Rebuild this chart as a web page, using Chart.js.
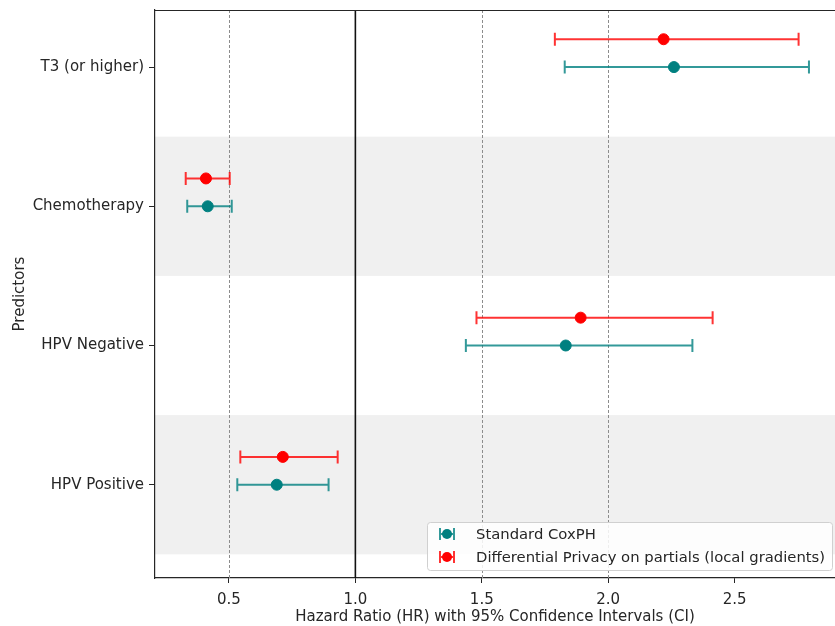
<!DOCTYPE html>
<html>
<head>
<meta charset="utf-8">
<script src="https://cdn.jsdelivr.net/npm/chart.js@4/dist/chart.umd.min.js"></script>
<style>
  html, body { margin: 0; padding: 0; background: #fff; overflow: hidden; }
  canvas { display: block; }
</style>
</head>
<body>
<canvas id="forest" width="835" height="626"></canvas>
<script>
const predictors = ['T3 (or higher)', 'Chemotherapy', 'HPV Negative', 'HPV Positive'];
const xTicks = [0.5, 1.0, 1.5, 2.0, 2.5];

const coxHR = [2.26, 0.416, 1.832, 0.689];
const coxLower = [1.828, 0.335, 1.437, 0.533];
const coxUpper = [2.794, 0.511, 2.333, 0.894];

const dpHR = [2.219, 0.409, 1.891, 0.713];
const dpLower = [1.789, 0.329, 1.479, 0.545];
const dpUpper = [2.753, 0.503, 2.413, 0.930];

const TEAL = '#008080';
const RED = '#ff0000';
const FONT = 'DejaVu Sans';
const TEXT = '#262626';

const toPoints = (hr, lo, hi, shift) =>
  hr.map((v, i) => ({ x: v, y: i + shift, lo: lo[i], hi: hi[i] }));

// shaded bands behind every other predictor
const bandsPlugin = {
  id: 'bands',
  beforeDraw(chart) {
    const { ctx, chartArea, scales } = chart;
    ctx.save();
    ctx.fillStyle = '#f0f0f0';
    [1, 3].forEach((i) => {
      const y1 = scales.y.getPixelForValue(i - 0.5);
      const y2 = scales.y.getPixelForValue(i + 0.5);
      ctx.fillRect(chartArea.left, y1, chartArea.right - chartArea.left, y2 - y1);
    });
    ctx.restore();
  }
};

// vertical reference lines and the error bars
const errorBarsPlugin = {
  id: 'errorBars',
  beforeDatasetsDraw(chart) {
    const { ctx, chartArea, scales } = chart;
    ctx.save();
    [0.5, 1.5, 2.0].forEach((v) => {
      const x = Math.round(scales.x.getPixelForValue(v)) + 0.5;
      ctx.strokeStyle = '#8c8c8c';
      ctx.lineWidth = 1;
      ctx.setLineDash([3, 2]);
      ctx.beginPath();
      ctx.moveTo(x, chartArea.top);
      ctx.lineTo(x, chartArea.bottom);
      ctx.stroke();
    });
    ctx.setLineDash([]);
    const x1 = scales.x.getPixelForValue(1.0);
    ctx.strokeStyle = '#111';
    ctx.lineWidth = 1.6;
    ctx.beginPath();
    ctx.moveTo(x1, chartArea.top);
    ctx.lineTo(x1, chartArea.bottom);
    ctx.stroke();

    chart.data.datasets.forEach((ds) => {
      ctx.strokeStyle = ds.barColor;
      ctx.lineWidth = 2;
      ds.data.forEach((p) => {
        const y = scales.y.getPixelForValue(p.y);
        const xl = scales.x.getPixelForValue(p.lo);
        const xh = scales.x.getPixelForValue(p.hi);
        ctx.beginPath();
        ctx.moveTo(xl, y);
        ctx.lineTo(xh, y);
        ctx.moveTo(xl, y - 6.5);
        ctx.lineTo(xl, y + 6.5);
        ctx.moveTo(xh, y - 6.5);
        ctx.lineTo(xh, y + 6.5);
        ctx.stroke();
      });
    });
    ctx.restore();
  },
  afterDatasetsDraw(chart) {
    const { ctx, chartArea } = chart;
    ctx.save();
    ctx.strokeStyle = '#262626';
    ctx.lineWidth = 1.2;
    ctx.beginPath();
    ctx.moveTo(chartArea.left, chartArea.top + 0.5);
    ctx.lineTo(chartArea.right, chartArea.top + 0.5);
    ctx.stroke();
    ctx.restore();
  }
};

// legend box placed inside the plot, lower right
const legendPlugin = {
  id: 'innerLegend',
  afterDraw(chart) {
    const { ctx } = chart;
    const bx = 427, by = 522, bw = 405, bh = 48;
    ctx.save();
    ctx.fillStyle = 'rgba(255,255,255,0.85)';
    ctx.strokeStyle = '#d0d0d0';
    ctx.lineWidth = 1;
    ctx.beginPath();
    ctx.roundRect(bx + 0.5, by + 0.5, bw, bh, 3);
    ctx.fill();
    ctx.stroke();
    ctx.font = '14.8px "' + FONT + '"';
    ctx.textBaseline = 'middle';
    chart.data.datasets.forEach((ds, k) => {
      const y = by + 12 + k * 23;
      const cx = 447;
      ctx.strokeStyle = ds.barColor;
      ctx.lineWidth = 2;
      ctx.beginPath();
      ctx.moveTo(cx - 7, y); ctx.lineTo(cx + 7, y);
      ctx.moveTo(cx - 7, y - 6); ctx.lineTo(cx - 7, y + 6);
      ctx.moveTo(cx + 7, y - 6); ctx.lineTo(cx + 7, y + 6);
      ctx.stroke();
      ctx.fillStyle = ds.backgroundColor;
      ctx.beginPath();
      ctx.arc(cx, y, 5, 0, Math.PI * 2);
      ctx.fill();
      ctx.fillStyle = TEXT;
      ctx.fillText(ds.label, 476, y + 1);
    });
    ctx.restore();
  }
};

new Chart(document.getElementById('forest'), {
  type: 'scatter',
  data: {
    datasets: [
      {
        label: 'Standard CoxPH',
        data: toPoints(coxHR, coxLower, coxUpper, 0),
        backgroundColor: TEAL,
        borderColor: TEAL,
        barColor: 'rgba(0,128,128,0.8)',
        pointRadius: 5.5,
        pointHoverRadius: 5.5
      },
      {
        label: 'Differential Privacy on partials (local gradients)',
        data: toPoints(dpHR, dpLower, dpUpper, -0.2),
        backgroundColor: RED,
        borderColor: RED,
        barColor: 'rgba(255,0,0,0.8)',
        pointRadius: 5.5,
        pointHoverRadius: 5.5
      }
    ]
  },
  options: {
    responsive: false,
    animation: false,
    events: [],
    layout: { autoPadding: false, padding: { top: 10, right: 0, bottom: 0, left: 0 } },
    plugins: {
      legend: { display: false },
      tooltip: { enabled: false }
    },
    scales: {
      x: {
        type: 'linear',
        min: 0.2075,
        max: 2.897,
        afterBuildTicks: (scale) => { scale.ticks = xTicks.map((v) => ({ value: v })); },
        afterFit: (scale) => {
          scale.height = 48;
          scale.paddingLeft = 0;
          scale.paddingRight = 0;
        },
        grid: { drawOnChartArea: false, drawTicks: true, tickLength: 5, tickColor: '#262626' },
        border: { display: true, color: '#262626', width: 1.2 },
        ticks: {
          color: TEXT,
          padding: 8,
          maxRotation: 0,
          font: { family: FONT, size: 15 },
          callback: (v) => v.toFixed(1)
        },
        title: {
          display: true,
          text: 'Hazard Ratio (HR) with 95% Confidence Intervals (CI)',
          color: TEXT,
          font: { family: FONT, size: 15 },
          padding: { top: 2, bottom: 0 }
        }
      },
      y: {
        type: 'linear',
        reverse: true,
        min: -0.41,
        max: 3.67,
        afterBuildTicks: (scale) => { scale.ticks = predictors.map((_, i) => ({ value: i })); },
        afterFit: (scale) => {
          scale.width = 155;
          scale.paddingTop = 0;
          scale.paddingBottom = 0;
        },
        grid: { drawOnChartArea: false, drawTicks: true, tickLength: 6, tickColor: '#262626' },
        border: { display: true, color: '#262626', width: 1.2 },
        ticks: {
          color: TEXT,
          padding: 5,
          font: { family: FONT, size: 15 },
          callback: (v) => predictors[v]
        },
        title: {
          display: true,
          text: 'Predictors',
          color: TEXT,
          font: { family: FONT, size: 15 },
          padding: { top: 11, bottom: 4 }
        }
      }
    }
  },
  plugins: [bandsPlugin, errorBarsPlugin, legendPlugin]
});
</script>
</body>
</html>
